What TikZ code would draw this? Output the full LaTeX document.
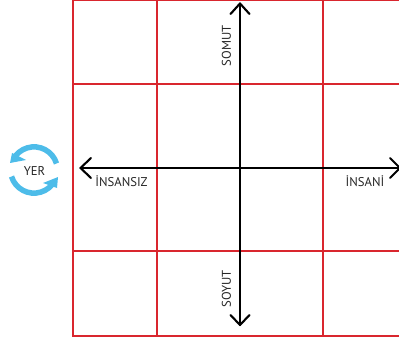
\documentclass[tikz,border=0pt]{standalone}
\usepackage{fontspec}
\setmainfont{PT Sans}
\definecolor{gridred}{HTML}{D9262E}
\definecolor{cyc}{HTML}{4DBCE9}
\tikzset{
  gridline/.style={draw=gridred,line width=1.7},
  axisline/.style={draw=black,line width=2.1,line cap=round,line join=round},
  lab/.style={font=\fontsize{12.7}{14}\selectfont,text=black!85,inner sep=0},
  cycarc/.style={draw=cyc,line width=5.5},
  cychead/.style={fill=cyc,draw=none}
}
\begin{document}
\begin{tikzpicture}[x=1pt,y=-1pt]
\useasboundingbox (0,0) rectangle (399,342);
\draw[gridline] (73,0.6) -- (399,0.6);
\draw[gridline] (73,84) -- (399,84);
\draw[gridline] (73,251) -- (399,251);
\draw[gridline] (73,336) -- (399,336);
\draw[gridline] (73,0) -- (73,336.8);
\draw[gridline] (157,0) -- (157,336);
\draw[gridline] (323,0) -- (323,336);
\coordinate (top) at (240,3.5);
\coordinate (bot) at (240,325);
\coordinate (lft) at (80.5,168);
\coordinate (rgt) at (400,168);
\draw[axisline] (top) -- (bot);
\draw[axisline] (lft) -- (rgt);
\draw[axisline] (230.5,14) -- (top) -- (249.5,14);
\draw[axisline] (230.5,315) -- (bot) -- (249.5,315);
\draw[axisline] (91,158) -- (lft) -- (91,178);
\draw[axisline] (390,158) -- (rgt) -- (390,178);
\draw[black,line width=2.6] (287,168) -- (298,168);
\node[lab,anchor=center] (insansiz) at (121.5,181.5) {İNSANSIZ};
\node[lab,anchor=center] (insani) at (365,181.5) {İNSANİ};
\node[lab,rotate=90,anchor=center] (somut) at (226.5,46) {SOMUT};
\node[lab,rotate=90,anchor=center] (soyut) at (226.5,289) {SOYUT};
\node[lab,anchor=center] (yer) at (34.5,171.5) {YER};
\draw[cycarc] (56.5,163.5) arc[start angle=-17,end angle=-150,radius=23.5];
\fill[cychead] (10,163) -- (12,153) -- (26,160) -- cycle;
\draw[cycarc] (11.5,176.5) arc[start angle=163,end angle=30,radius=23.5];
\fill[cychead] (58,177) -- (57,188) -- (43,183) -- cycle;
\end{tikzpicture}
\end{document}
